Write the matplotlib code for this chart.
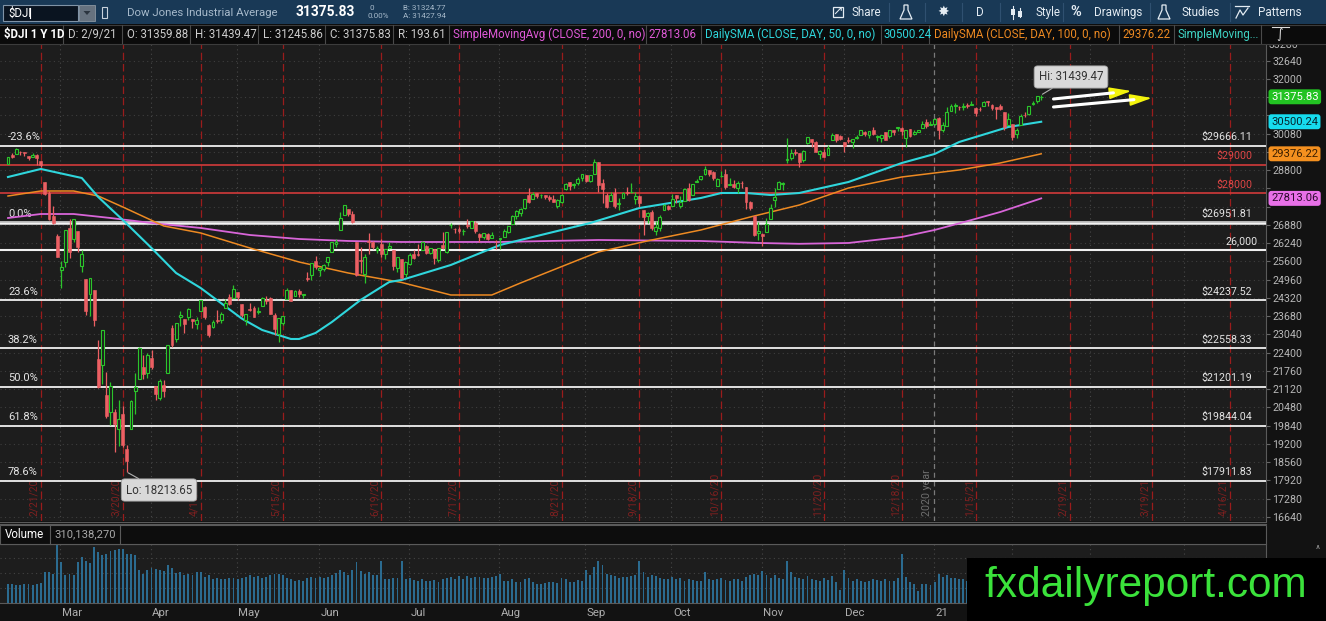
import numpy as np
import pandas as pd
import matplotlib
matplotlib.use("Agg")
import matplotlib.pyplot as plt
from matplotlib.patches import Rectangle, Polygon
from matplotlib.ticker import FuncFormatter
from matplotlib.transforms import blended_transform_factory as blend

plt.rcParams["font.family"] = ["Roboto", "DejaVu Sans"]

# ---------------- data ----------------
# daily candles, 2020-02-10 .. 2021-02-09
opens = [29020, 29319, 29364, 29434, 29441, 29287, 29280, 29321, 29128, 28402, 28012, 27201, 26501, 25317,
         25591, 26762, 26384, 26671, 25458, 24992, 24453, 24604, 22185, 21974, 20917, 20328, 20312, 19734, 20253, 19029, 19722, 21051, 21468, 21899, 21678, 22211,
         21227, 20819, 21285, 21693, 23280, 22888, 23650, 23575, 23670, 23600, 23421, 23860, 24000, 23381, 23312, 23517, 23557, 23958, 24350, 24302, 24515,
         24121, 23560, 23949, 23984, 23832, 24047, 24223, 24304, 23727, 23063, 23438, 24270, 24595, 24407, 24559, 24421, 24999, 25122, 25633, 25318,
         25343, 25574, 25928, 26208, 26704, 27232, 27447, 27251, 26283, 25659, 25162, 26312, 26280, 25994, 26220, 25876, 26066, 26001, 25360, 25695, 25152, 25513,
         25880, 25861, 26010, 26129, 25910, 26041, 25640, 26192, 25947, 26870, 26750, 26733, 26652, 26894, 26780, 26948, 26567, 26458, 26567, 26414, 26330, 26380,
         26470, 26642, 26904, 27194, 27283, 27492, 27935, 27799, 27994, 27920, 27923, 27864, 27779, 27552, 27697, 28145, 28374, 28280, 28353, 28541, 28621,
         28440, 28679, 29079, 28341, 27931, 27705, 28011, 27611, 27831, 28052, 28031, 27779, 27898, 27402, 27202, 27318, 26683, 26778, 27403, 27560, 27533,
         27940, 27537, 27722, 28164, 27944, 28372, 28508, 28652, 28795, 28724, 28237, 28583, 28683, 28282, 28303, 28180, 28360, 28224, 27700, 27200, 26595, 26580,
         26636, 27085, 27758, 28157, 28321, 29157, 29229, 29426, 29400, 29143, 29750, 29880, 29784, 29370, 29457, 29347, 29845, 30056, 29988, 29773,
         29851, 29801, 29916, 30045, 30150, 30020, 30197, 29967, 29945, 30124, 29998, 30214, 30284, 30292, 29935, 30234, 30067, 30155, 30284, 30492, 30395, 30417,
         30628, 30204, 30360, 30869, 31067, 31021, 31014, 31084, 31091, 30992, 30961, 31060, 31221, 31074, 31016, 31051, 30851, 30383, 30429,
         30054, 30397, 30752, 30784, 31120, 31236, 31359.88]
highs = [29277, 29415, 29569, 29464, 29441, 29314, 29406, 29370, 29128, 28402, 28071, 27552, 26581, 25630,
         26706, 27084, 27091, 26671, 25994, 24992, 25020, 24604, 22838, 23190, 21737, 21385, 20434, 20733, 20531, 19177, 20758, 21700, 22596, 22327, 22378, 22481,
         21227, 21478, 21447, 22680, 23360, 23434, 23855, 23575, 23971, 23600, 23667, 24264, 24024, 23418, 23562, 23888, 23811, 24287, 24475, 24765, 24515,
         24121, 23753, 24160, 24036, 24019, 24341, 24398, 24354, 23800, 23635, 23699, 24667, 24595, 24617, 24635, 24475, 25241, 25548, 25780, 25412,
         25514, 25743, 26270, 26382, 27339, 27580, 27448, 27355, 26283, 26103, 25860, 26611, 26329, 26152, 26401, 26039, 26290, 26001, 25757, 25695, 25597, 25905,
         26016, 26204, 26326, 26172, 26068, 26041, 26080, 26631, 26644, 26958, 26781, 26794, 26725, 27087, 27005, 27033, 26584, 26586, 26610, 26626, 26356, 26429,
         26730, 26830, 27229, 27411, 27459, 27791, 28172, 28036, 28017, 27980, 27946, 27935, 27930, 27777, 27961, 28338, 28374, 28360, 28580, 28660, 28621,
         28646, 29200, 29080, 28506, 28013, 28039, 28165, 27821, 28054, 28209, 28338, 28020, 27938, 27402, 27320, 27413, 27018, 27215, 27629, 27587, 27960,
         27941, 27885, 28162, 28354, 28312, 28489, 28614, 28956, 28820, 28788, 28528, 28780, 28850, 28534, 28450, 28432, 28412, 28224, 27712, 27200, 26970, 26595,
         27140, 27603, 28163, 28421, 28392, 29933, 29528, 29557, 29400, 29526, 29964, 29880, 29834, 29514, 29554, 29691, 30116, 30062, 30032, 29773,
         29966, 29886, 30046, 30218, 30193, 30184, 30320, 30024, 30047, 30157, 30206, 30223, 30333, 30308, 30222, 30234, 30226, 30209, 30526, 30600, 30525, 30637,
         30674, 30504, 31022, 31109, 31141, 31038, 31155, 31154, 31224, 31005, 31007, 31237, 31243, 31108, 31017, 31117, 30851, 30809, 30429,
         30280, 30765, 30859, 31056, 31211, 31386, 31439.47]
lows = [29006, 29224, 29364, 29328, 29291, 29146, 29280, 28996, 28908, 27918, 27060, 26921, 25758, 24681,
        25392, 25706, 26281, 25943, 25226, 23707, 23690, 23328, 21155, 21286, 20116, 19878, 18918, 19134, 19094, 18213.65, 19722, 20264, 21469, 21470, 21522, 21845,
        20736, 20735, 20863, 21693, 22600, 22786, 23334, 23078, 23534, 23250, 23230, 23860, 23583, 22942, 23267, 23450, 23441, 23958, 24064, 24302, 24235,
        23645, 23361, 23849, 23645, 23762, 24047, 24111, 23759, 23014, 22790, 23380, 24270, 24202, 24407, 24359, 24312, 24919, 24960, 25339, 25082,
        25272, 25448, 25928, 26115, 26704, 27232, 27189, 26964, 25082, 25205, 24843, 25847, 26050, 25896, 25763, 25693, 26034, 25302, 25224, 24992, 25073, 25469,
        25676, 25787, 26010, 25878, 25856, 25524, 25590, 26047, 25890, 26758, 26606, 26590, 26542, 26781, 26762, 26601, 26268, 26406, 26365, 26410, 26046, 26025,
        26470, 26606, 26904, 27082, 27209, 27443, 27668, 27778, 27835, 27812, 27779, 27715, 27672, 27462, 27662, 28118, 28093, 28179, 28268, 28432, 28397,
        28386, 28679, 28053, 27664, 27465, 27705, 27475, 27399, 27827, 27931, 27991, 27616, 27501, 26537, 26954, 26712, 26537, 26669, 27403, 27404, 27533,
        27660, 27469, 27722, 27728, 27944, 28372, 28451, 28616, 28588, 28472, 28237, 28580, 28150, 28272, 28190, 28010, 28185, 27427, 27419, 26507, 26341, 26143,
        26636, 27085, 27509, 28157, 28109, 29038, 29164, 29337, 28923, 29106, 29730, 29618, 29435, 29202, 29263, 29317, 29845, 29799, 29875, 29455,
        29749, 29587, 29886, 30045, 29992, 29936, 30025, 29841, 29799, 29857, 29944, 30023, 30183, 30053, 29618, 29954, 30036, 30129, 30284, 30297, 30375, 30382,
        29882, 30141, 30339, 30869, 30815, 30897, 30900, 30995, 31072, 30710, 30863, 31060, 31062, 30900, 30612, 30897, 30221, 30383, 29857,
        29915, 30397, 30658, 30743, 31087, 31157, 31245.86]
closes = [29277, 29276, 29551, 29423, 29398, 29232, 29348, 29220, 28992, 27961, 27081, 26958, 25767, 25409,
          26703, 25917, 27091, 26121, 25865, 23851, 25018, 23553, 21201, 23186, 20189, 21237, 19899, 20087, 19174, 18592, 20705, 21201, 22552, 21637, 22328, 21917,
          20944, 21413, 21053, 22680, 22654, 23434, 23719, 23391, 23950, 23504, 23538, 24242, 23650, 23019, 23476, 23515, 23775, 24134, 24102, 24634, 24346,
          23724, 23750, 23883, 23665, 23876, 24331, 24222, 23765, 23248, 23625, 23685, 24597, 24207, 24576, 24474, 24465, 24995, 25548, 25401, 25383,
          25475, 25743, 26270, 26282, 27111, 27572, 27272, 26990, 25128, 25606, 25763, 26290, 26120, 26080, 25872, 26025, 26156, 25446, 25746, 25016, 25596, 25813,
          25735, 25827, 26287, 25890, 26067, 25706, 26075, 26086, 26643, 26870, 26735, 26672, 26681, 26840, 27006, 26652, 26470, 26585, 26379, 26540, 26314, 26428,
          26664, 26829, 27202, 27387, 27434, 27791, 27687, 27977, 27897, 27931, 27845, 27778, 27693, 27740, 27930, 28309, 28248, 28332, 28492, 28654, 28430,
          28646, 29100, 28293, 28133, 27501, 27941, 27535, 27666, 27993, 27996, 28032, 27902, 27657, 27148, 27288, 26763, 26815, 27174, 27584, 27453, 27782,
          27817, 27683, 28149, 27773, 28304, 28426, 28587, 28838, 28680, 28514, 28494, 28606, 28195, 28309, 28211, 28364, 28336, 27685, 27463, 26520, 26659, 26502,
          26925, 27480, 27848, 28390, 28323, 29158, 29421, 29398, 29080, 29480, 29950, 29783, 29438, 29483, 29264, 29591, 30046, 29873, 29910, 29639,
          29824, 29884, 29970, 30218, 30070, 30174, 30069, 29999, 30046, 29862, 30199, 30155, 30303, 30179, 30217, 30016, 30130, 30200, 30404, 30336, 30410, 30607,
          30224, 30392, 30829, 31041, 31098, 31009, 31069, 31060, 31113, 30814, 30931, 31188, 31176, 30997, 30960, 30937, 30303, 30603, 29983,
          30212, 30688, 30724, 31056, 31148, 31386, 31375.83]
# volume in millions of shares
volumes = [320, 330, 310, 300, 320, 330, 310, 330, 340, 520, 530, 500, 985, 700,
           480, 500, 480, 700, 780, 720, 680, 950, 870, 820, 830, 880, 900, 920, 920, 830, 840, 820, 560, 500, 560, 590,
           570, 560, 540, 640, 600, 510, 520, 480, 500, 470, 520, 530, 450, 470, 400, 420, 400, 410, 420, 430, 410,
           430, 450, 470, 440, 460, 420, 450, 470, 490, 500, 480, 420, 400, 380, 390, 370, 420, 440, 430, 450,
           420, 440, 470, 510, 560, 520, 480, 560, 700, 540, 500, 520, 470, 480, 715, 400, 410, 430, 420, 720, 400, 420,
           390, 380, 400, 380, 370, 390, 360, 400, 420, 440, 410, 460, 400, 460, 420, 450, 440, 420, 430, 440, 460, 500,
           380, 370, 400, 360, 350, 400, 420, 360, 330, 320, 340, 350, 360, 340, 420, 400, 360, 350, 390, 380, 560,
           480, 620, 715, 650, 500, 480, 460, 430, 440, 450, 460, 480, 715, 520, 450, 470, 460, 430, 410, 400, 450,
           400, 420, 380, 410, 390, 370, 380, 530, 400, 390, 410, 430, 390, 380, 400, 410, 380, 440, 480, 500, 470, 540,
           470, 430, 480, 420, 400, 715, 520, 450, 420, 410, 460, 400, 390, 380, 420, 390, 460, 360, 220, 560,
           420, 380, 400, 370, 360, 380, 400, 390, 380, 400, 370, 380, 420, 830, 440, 360, 330, 200, 320, 330, 300, 350,
           500, 450, 480, 420, 430, 400, 410, 380, 400, 440, 400, 420, 380, 360, 430, 400, 480, 430, 470,
           400, 380, 370, 360, 350, 340, 310.138270]

sma50_dates = ["2020-02-10", "2020-02-21", "2020-03-06", "2020-03-12", "2020-03-20", "2020-03-31", "2020-04-08",
               "2020-04-17", "2020-05-01", "2020-05-08", "2020-05-19", "2020-05-21", "2020-05-28", "2020-06-03",
               "2020-06-12", "2020-06-23", "2020-06-26", "2020-07-15", "2020-07-31", "2020-08-17", "2020-09-01",
               "2020-09-18", "2020-10-09", "2020-10-16", "2020-10-26", "2020-11-03", "2020-11-12", "2020-12-01",
               "2020-12-18", "2020-12-31", "2021-01-11", "2021-01-22", "2021-01-28", "2021-02-09"]
sma50_vals = [28563, 28844, 28528, 27862, 27055, 26073, 25196, 24670, 23600, 23197, 22882, 22882, 23092, 23478,
              24250, 24881, 24951, 25477, 26178, 26564, 26950, 27476, 27827, 28002, 28002, 27932, 28002, 28388,
              29054, 29370, 29791, 30141, 30317, 30500.24]
sma100_dates = ["2020-02-10", "2020-02-21", "2020-03-04", "2020-03-12", "2020-03-20", "2020-04-03", "2020-04-17",
                "2020-05-05", "2020-05-21", "2020-06-09", "2020-06-26", "2020-07-15", "2020-07-29", "2020-08-07",
                "2020-08-24", "2020-09-03", "2020-09-23", "2020-10-09", "2020-10-27", "2020-11-12", "2020-12-01",
                "2020-12-18", "2021-01-11", "2021-01-26", "2021-02-09"]
sma100_vals = [27897, 28072, 28072, 27897, 27511, 26845, 26599, 26073, 25582, 25196, 24864, 24425, 24425, 24846,
               25477, 25933, 26354, 26705, 27160, 27580, 28177, 28563, 28809, 29054, 29376.22]
sma200_dates = ["2020-02-10", "2020-02-21", "2020-03-04", "2020-03-17", "2020-03-31", "2020-04-17", "2020-05-05",
                "2020-05-21", "2020-06-09", "2020-06-26", "2020-07-31", "2020-09-03", "2020-10-09", "2020-10-29",
                "2020-11-12", "2020-12-01", "2020-12-18", "2020-12-31", "2021-01-14", "2021-01-26", "2021-02-09"]
sma200_vals = [27125, 27265, 27265, 27125, 26950, 26775, 26529, 26389, 26319, 26284, 26284, 26354, 26319, 26249,
               26220, 26249, 26459, 26705, 27055, 27335, 27813.06]

fib_levels = [29666.11, 26951.81, 24237.52, 22558.33, 21201.19, 19844.04, 17911.83]
fib_names = ["-23.6%", "0.0%", "23.6%", "38.2%", "50.0%", "61.8%", "78.6%"]
red_levels = [29000, 28000]
round_level = 26000

expiry_dates = ["2020-02-21", "2020-03-20", "2020-04-17", "2020-05-15", "2020-06-19", "2020-07-17", "2020-08-21",
                "2020-09-18", "2020-10-16", "2020-11-20", "2020-12-18", "2021-01-15", "2021-02-19", "2021-03-19",
                "2021-04-16"]
holidays = ["2020-02-17", "2020-04-10", "2020-05-25", "2020-07-03", "2020-09-07", "2020-11-26", "2020-12-25",
            "2021-01-01", "2021-01-18", "2021-02-15", "2021-04-02"]
month_labels = ["Mar", "Apr", "May", "Jun", "Jul", "Aug", "Sep", "Oct", "Nov", "Dec", "21"]

# trend arrows drawn on the chart
arrow_from_dates = ["2021-02-12", "2021-02-12"]
arrow_from_prices = [31299, 31018]
arrow_to_dates = ["2021-03-12", "2021-03-19"]
arrow_to_prices = [31579, 31334]

# ---------------- layout ----------------
W, H = 1326, 621
fig = plt.figure(figsize=(W / 100, H / 100), dpi=100, facecolor="#121212")


def fbox(x0, y0, x1, y1):
    return [x0 / W, 1 - y1 / H, (x1 - x0) / W, (y1 - y0) / H]


CHART_BG = "#1d1d1d"
GREEN, RED = "#2bc52b", "#ec5f63"
CYAN, ORANGE, MAGENTA = "#2fd6dc", "#ee8a22", "#d865d8"

days = pd.bdate_range("2020-02-10", "2021-04-30")
days = days[~days.isin(pd.to_datetime(holidays))]
slot = pd.Series(np.arange(len(days)), index=days)


def at(dates):
    return slot.loc[pd.to_datetime(dates)].values


firsts = slot.groupby(days.to_period("M")).min()
firsts = firsts[firsts.index >= pd.Period("2020-03", "M")]
grid_x = firsts.values - 1.2

ax = fig.add_axes(fbox(0, 44, 1266, 521), facecolor=CHART_BG)
axv = fig.add_axes(fbox(0, 544, 1266, 603), facecolor=CHART_BG)
xlim = (-8 / 4.1, (1266 - 8) / 4.1)

o, h, l, c = (np.array(v, dtype=float) for v in (opens, highs, lows, closes))
tag_vals = [c[-1], sma50_vals[-1], sma100_vals[-1], sma200_vals[-1]]

# ---- price panel ----
ax.set_xlim(*xlim)
ax.set_ylim(16499, 33227)
ax.set_yticks(np.arange(16640, 33000, 640))
ax.yaxis.tick_right()
# axis labels that sit under a price tag are covered by it
ax.yaxis.set_major_formatter(FuncFormatter(
    lambda v, p: "" if min(abs(v - t) for t in tag_vals) < 420 else f"{v:.0f}"))
ax.tick_params(axis="y", colors="#666666", labelcolor="#b8b8b8", labelsize=7.7, length=3, width=0.8, pad=1.5)
ax.tick_params(axis="x", bottom=False, labelbottom=False)
for s in ax.spines.values():
    s.set_visible(False)
ax.spines["right"].set_visible(True)
ax.spines["right"].set_color("#5a5a5a")
ax.grid(axis="y", color="#3e3e3e", ls=(0, (1, 3)), lw=0.8)
ax.set_axisbelow(True)
yt = blend(ax.transAxes, ax.transData)
ax.text(1 + 3 / 1266, 33180, "33280", transform=yt, color="#b8b8b8", fontsize=7.7, va="center", clip_on=False)

LABEL_Y = 0.011  # bottom of the rotated date labels, in axes fraction
jan = firsts.index.get_loc(pd.Period("2021-01", "M"))
for i, gx in enumerate(grid_x):
    if i == jan:
        continue
    ax.axvline(gx, color="#474747", ls=(0, (1, 3)), lw=0.8, zorder=1)
    axv.axvline(gx, color="#474747", ls=(0, (1, 3)), lw=0.8, zorder=1)
ax.axvline(grid_x[jan], color="#7a7a7a", ls=(0, (4, 3)), lw=0.9, zorder=1)
axv.axvline(grid_x[jan], color="#474747", ls=(0, (1, 3)), lw=0.8, zorder=1)
xt = blend(ax.transData, ax.transAxes)
ax.text(grid_x[jan] - 0.35, LABEL_Y, "2020 year", rotation=90, ha="right", va="bottom", transform=xt,
        color="#6e6e6e", fontsize=7.7)

for d in pd.to_datetime(expiry_dates):
    ex = slot[d]
    ax.axvline(ex, color="#9a1c1c", ls=(0, (6, 3)), lw=0.9, zorder=1)
    ax.text(ex - 0.35, LABEL_Y, f"{d.month}/{d.day}/{d:%y}", rotation=90, ha="right", va="bottom",
            transform=xt, color="#7e2020", fontsize=7.4)

# fib / level lines
for lv, nm in zip(fib_levels, fib_names):
    if nm == "0.0%":
        ax.axhline(lv, color="#bdbdbd", lw=2.8, zorder=3)
        ax.axhline(lv, color="#f4f4f4", lw=1.0, zorder=3)
    else:
        ax.axhline(lv, color="#f0f0f0", lw=1.3, zorder=3)
    ax.annotate(nm, xy=(8 / 1266, lv), xycoords=yt, xytext=(0, 2.5), textcoords="offset points",
                ha="left", va="bottom", color="#e4e4e4", fontsize=8)
    ax.annotate(f"${lv:.2f}", xy=(1252 / 1266, lv), xycoords=yt, xytext=(0, 2.5), textcoords="offset points",
                ha="right", va="bottom", color="#e4e4e4", fontsize=7.7)
for lv in red_levels:
    ax.axhline(lv, color="#d23a3a", lw=1.2, zorder=3)
    ax.annotate(f"${lv}", xy=(1252 / 1266, lv), xycoords=yt, xytext=(0, 2.5), textcoords="offset points",
                ha="right", va="bottom", color="#e04646", fontsize=7.7)
ax.axhline(round_level, color="#f0f0f0", lw=1.5, zorder=3)
ax.annotate(f"{round_level:,}", xy=(1258 / 1266, round_level), xycoords=yt, xytext=(0, 2.5),
            textcoords="offset points", ha="right", va="bottom", color="#e4e4e4", fontsize=7.7)

# moving averages
ax.plot(at(sma200_dates), sma200_vals, color=MAGENTA, lw=1.3, zorder=4)
ax.plot(at(sma100_dates), sma100_vals, color=ORANGE, lw=1.1, zorder=4)
ax.plot(at(sma50_dates), sma50_vals, color=CYAN, lw=1.5, zorder=4)

# candles
x = np.arange(len(c))
up = c >= o
ax.vlines(x, l, h, colors=np.where(up, GREEN, RED), lw=0.9, zorder=5)
lo = np.minimum(o, c)
bh = np.maximum(np.abs(c - o), 20)
ax.bar(x[up], bh[up], bottom=lo[up], width=0.72, facecolor=CHART_BG, edgecolor=GREEN, lw=0.8, zorder=6)
ax.bar(x[~up], bh[~up], bottom=lo[~up], width=0.72, facecolor=RED, edgecolor=RED, lw=0.4, zorder=6)

# hi / lo callouts
hi_i, lo_i = int(np.argmax(h)), int(np.argmin(l))
box = dict(boxstyle="round,pad=0.4,rounding_size=0.3", fc="#d9d9d9", ec="#a0a0a0", lw=0.6)
ax.annotate(f"Hi: {h[hi_i]:.2f}", xy=(hi_i, h[hi_i]), xytext=(1071, H - 77), textcoords="figure pixels",
            ha="center", va="center", fontsize=8.3, color="#333333", bbox=box, zorder=9,
            arrowprops=dict(arrowstyle="-", color="#b0b0b0", lw=0.8, shrinkA=0, shrinkB=1))
ax.annotate(f"Lo: {l[lo_i]:.2f}", xy=(lo_i, l[lo_i]), xytext=(159, H - 490), textcoords="figure pixels",
            ha="center", va="center", fontsize=8.3, color="#333333", bbox=box, zorder=9,
            arrowprops=dict(arrowstyle="-", color="#b0b0b0", lw=0.8, shrinkA=0, shrinkB=1))

# trend arrows
for sd, sp, td, tp in zip(arrow_from_dates, arrow_from_prices, arrow_to_dates, arrow_to_prices):
    a = (slot[pd.Timestamp(sd)], sp)
    b = (slot[pd.Timestamp(td)], tp)
    ax.annotate("", xy=b, xytext=a, zorder=8,
                arrowprops=dict(arrowstyle="-|>,head_length=1.35,head_width=0.36", mutation_scale=10,
                                color="#f4f40c", lw=1.2, shrinkA=0, shrinkB=0))
    ax.annotate("", xy=b, xytext=a, zorder=9,
                arrowprops=dict(arrowstyle="-", color="white", lw=2.2, shrinkA=0, shrinkB=13))

# price tags on the axis
tag_colors = [("#22c322", "white"), ("#16dcee", "#06262e"), ("#f4901f", "#3a1e00"), ("#e870e8", "#2e0a2e")]
for v, (bg, fg) in zip(tag_vals, tag_colors):
    ax.text(1271 / 1266, v, f"{v:.2f}", transform=yt, ha="left", va="center", fontsize=8.1, color=fg,
            clip_on=False, zorder=10,
            bbox=dict(boxstyle="round,pad=0.22,rounding_size=0.25", fc=bg, ec="none"))

# ---- volume panel ----
axv.set_xlim(*xlim)
axv.set_ylim(0, 1003)
axv.bar(x, volumes, width=0.45, color="#2b6b90", zorder=3)
axv.set_yticks([255, 510, 765])
axv.grid(axis="y", color="#444444", ls=(0, (1, 3)), lw=0.8)
axv.tick_params(left=False, bottom=False, labelleft=False, labelbottom=False)
for s in axv.spines.values():
    s.set_color("#5a5a5a")
    s.set_linewidth(0.8)
axv.spines["left"].set_visible(False)
vt = blend(axv.transData, axv.transAxes)
for gx, lab in zip(grid_x, month_labels):
    axv.text(gx + 0.4, -0.17, lab, transform=vt, ha="left", va="center", color="#aeaeae", fontsize=8.2,
             clip_on=False)

# ---------------- platform chrome ----------------
ui = fig.add_axes([0, 0, 1, 1])
ui.set_xlim(0, W)
ui.set_ylim(H, 0)
ui.axis("off")

# top toolbar
ui.add_patch(Rectangle((0, 0), W, 24, fc="#193956", ec="none"))
ui.add_patch(Rectangle((3, 5), 75, 16, fc="#0a1420", ec="#8093a6", lw=0.8))
ui.text(8, 13, "$DJI", color="white", fontsize=8.3, va="center")
ui.plot([30, 30], [8, 18], color="white", lw=0.8)
ui.add_patch(Rectangle((79, 5), 16, 16, fc="#66727f", ec="#8a96a2", lw=0.6))
ui.add_patch(Polygon([(83.5, 11), (90.5, 11), (87, 15)], closed=True, fc="#2b3540", ec="none"))
ui.add_patch(Rectangle((102, 7), 5, 11, fc="none", ec="#c8d2dc", lw=0.8))
ui.text(127, 12.5, "Dow Jones Industrial Average", color="#a7bacb", fontsize=8.2, va="center")
ui.text(296, 12.5, f"{c[-1]:.2f}", color="white", fontsize=9.9, fontweight="bold", va="center")
ui.text(369, 7.5, "0", color="#a7bacb", fontsize=5.8, va="center")
ui.text(368, 16.5, "0.00%", color="#a7bacb", fontsize=5.8, va="center")
ui.text(403, 7.5, "B: 31324.77", color="#a7bacb", fontsize=5.8, va="center")
ui.text(403, 16.5, "A: 31427.94", color="#a7bacb", fontsize=5.8, va="center")
for sx in [889, 925, 962, 1000, 1063, 1150, 1230]:
    ui.plot([sx, sx], [3, 21], color="#2f5070", lw=0.8)
TB = "#e4ecf3"
ui.add_patch(Rectangle((833, 7), 10, 10, fc="none", ec=TB, lw=0.9))
ui.text(838, 11, "↗", color=TB, fontsize=9, family="DejaVu Sans", va="center", ha="center")
ui.text(851, 12.5, "Share", color=TB, fontsize=8.4, va="center")
for fx in (906, 1164):
    ui.add_patch(Polygon([(fx - 2, 5), (fx + 2, 5), (fx + 2, 10), (fx + 6, 19), (fx - 6, 19), (fx - 2, 10)],
                         closed=True, fc="none", ec=TB, lw=0.9))
ui.text(943, 12, "✸", color=TB, fontsize=10, family="DejaVu Sans", va="center", ha="center")
ui.text(976, 12.5, "D", color=TB, fontsize=8.4, va="center")
for cx, y0, y1 in [(1013, 6, 19), (1020, 8, 17)]:
    ui.plot([cx, cx], [y0, y1], color=TB, lw=0.8)
    ui.add_patch(Rectangle((cx - 2, y0 + 3), 4, 6, fc=TB, ec="none"))
ui.text(1036, 12.5, "Style", color=TB, fontsize=8.4, va="center")
ui.text(1070, 12.5, "%", color=TB, fontsize=10.5, fontweight="bold", va="center")
ui.text(1094, 12.5, "Drawings", color=TB, fontsize=8.4, va="center")
ui.text(1181, 12.5, "Studies", color=TB, fontsize=8.4, va="center")
ui.plot([1235, 1249], [6, 6], color=TB, lw=0.9)
ui.plot([1236, 1240, 1243, 1248], [18, 10, 15, 8], color=TB, lw=0.9)
ui.text(1258, 12.5, "Patterns", color=TB, fontsize=8.4, va="center")

# study info bar
ui.add_patch(Rectangle((0, 24), W, 20, fc="#0b0b0b", ec="none"))
ui.plot([0, W], [24.5, 24.5], color="#3c3c3c", lw=0.8)
ui.plot([0, W], [43.5, 43.5], color="#3c3c3c", lw=0.8)
GREY = "#cdcdcd"
items = [(4, "$DJI 1 Y 1D", "white", "bold"),
         (68, "D: 2/9/21", GREY, "normal"),
         (127, f"O: {o[-1]:.2f}", GREY, "normal"),
         (195, f"H: {h[-1]:.2f}", GREY, "normal"),
         (263, f"L: {l[-1]:.2f}", GREY, "normal"),
         (330, f"C: {c[-1]:.2f}", GREY, "normal"),
         (398, f"R: {h[-1] - l[-1]:.2f}", GREY, "normal"),
         (453, "SimpleMovingAvg (CLOSE, 200, 0, no)", "#e05ad8", "normal"),
         (648, f"{sma200_vals[-1]:.2f}", "#e05ad8", "normal"),
         (705, "DailySMA (CLOSE, DAY, 50, 0, no)", CYAN, "normal"),
         (884, f"{sma50_vals[-1]:.2f}", CYAN, "normal"),
         (934, "DailySMA (CLOSE, DAY, 100, 0, no)", ORANGE, "normal"),
         (1122, f"{sma100_vals[-1]:.2f}", ORANGE, "normal"),
         (1178, "SimpleMoving...", "#3fd3c4", "normal")]
for ix, txt, col, wt in items:
    ui.text(ix, 34.5, txt, color=col, fontsize=8.3, fontweight=wt, va="center")
for sx in [63, 122, 190, 258, 325, 393, 449, 646, 701, 881, 929, 1119, 1174, 1261]:
    ui.plot([sx, sx], [25, 43], color="#4a4a4a", lw=0.8)
ui.plot([1272, 1289], [27, 27], color="#dddddd", lw=0.8)
ui.text(1280, 35, "∫", color="#dddddd", fontsize=9, family="DejaVu Sans", va="center", ha="center")

# panel separators and volume header
ui.plot([0, 1266], [521.5, 521.5], color="#5a5a5a", lw=0.8)
ui.plot([0, 1266], [523.5, 523.5], color="#5a5a5a", lw=0.8)
ui.add_patch(Rectangle((0, 525), 1266, 19, fc="#0d0d0d", ec="#5a5a5a", lw=0.8))
ui.plot([50, 50], [525, 544], color="#5a5a5a", lw=0.8)
ui.plot([120, 120], [525, 544], color="#5a5a5a", lw=0.8)
ui.text(5, 534.5, "Volume", color="white", fontsize=8.3, va="center")
ui.text(54, 534.5, f"{volumes[-1] * 1e6:,.0f}", color="#a8a8a8", fontsize=8.1, va="center")
ui.text(1318, 550, "^", color="#9a9a9a", fontsize=7, va="center", ha="center")

# watermark
ui.add_patch(Rectangle((967, 558), W - 967, H - 558, fc="black", ec="none"))
ui.text(984, 597, "fxdailyreport.com", color="#3be23b", fontsize=30.5, family="Liberation Sans",
        va="baseline", ha="left")

fig.savefig("out.png", dpi=100, facecolor=fig.get_facecolor())
